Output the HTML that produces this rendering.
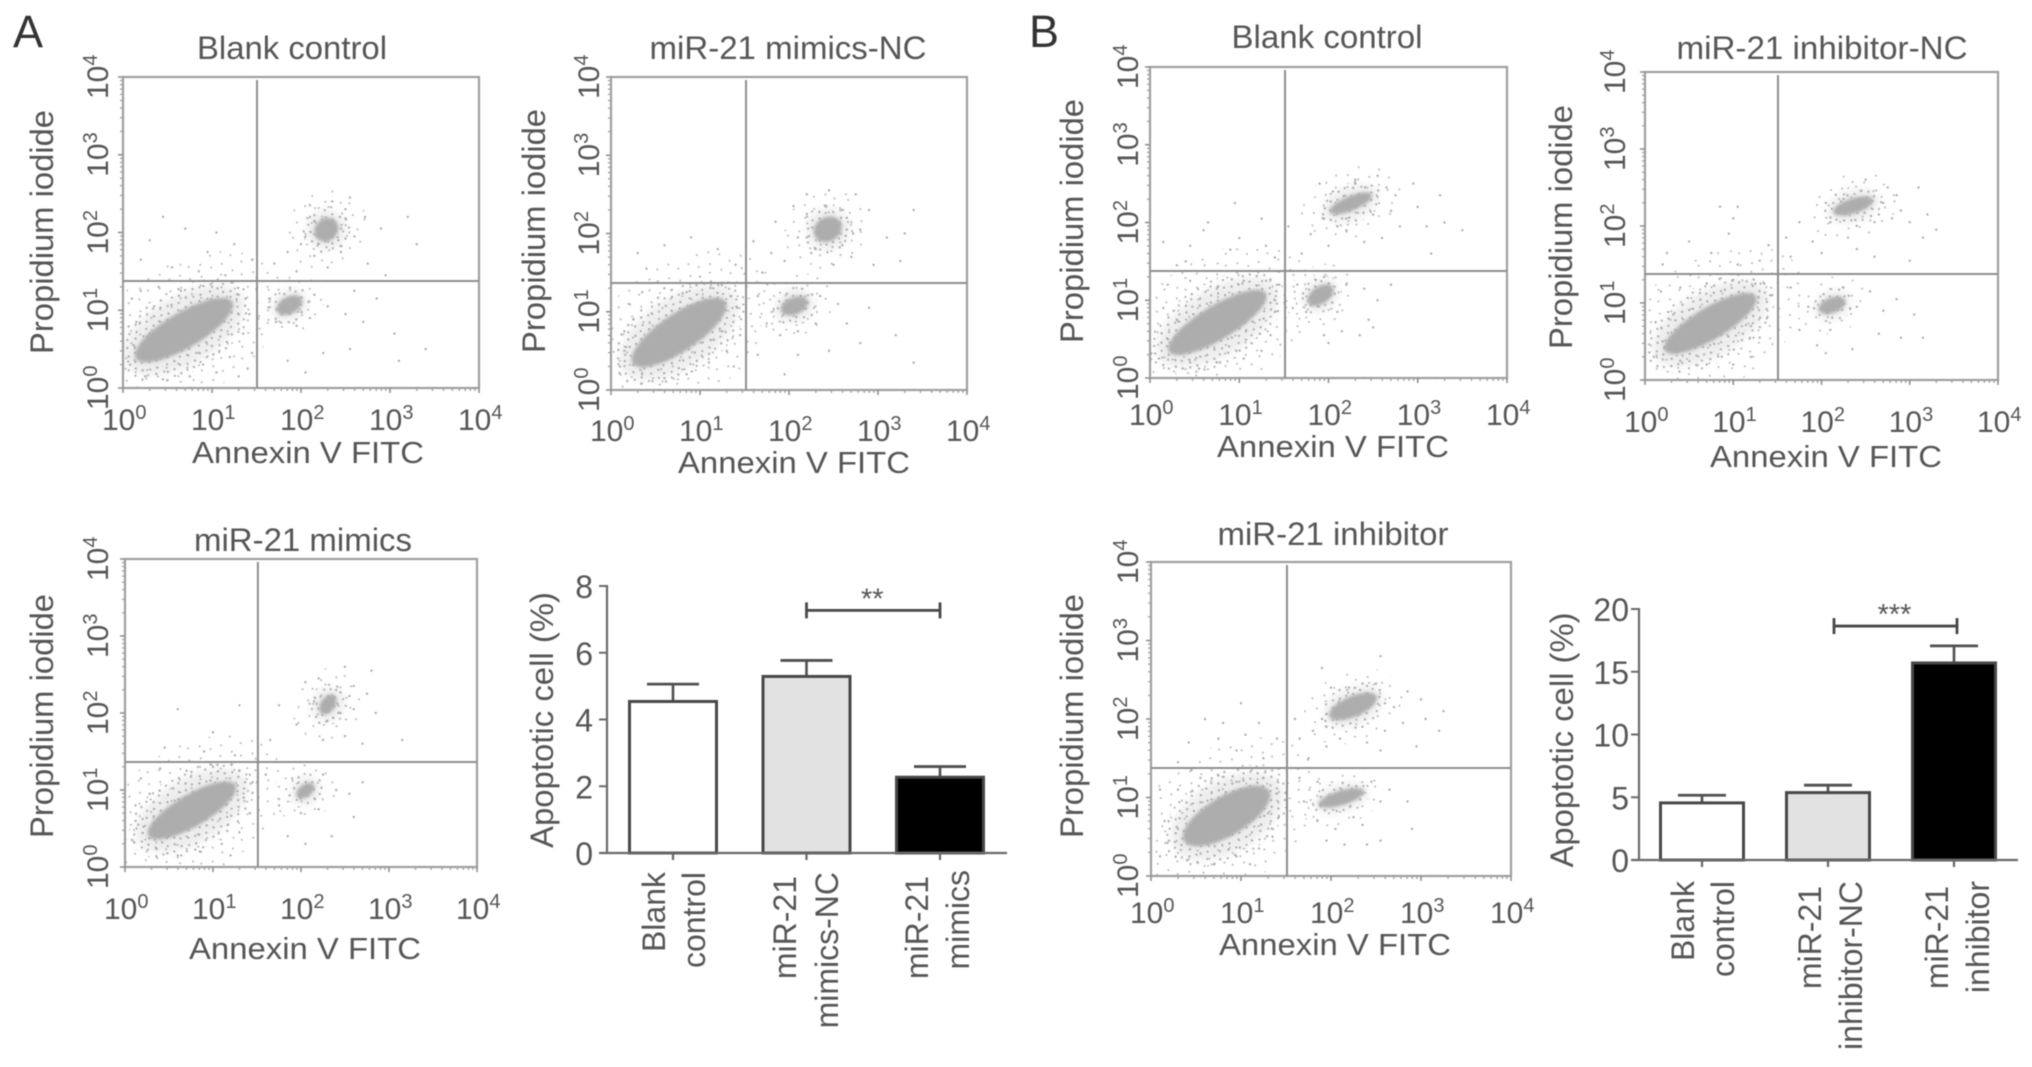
<!DOCTYPE html>
<html lang="en">
<head>
<meta charset="utf-8">
<title>Apoptosis flow cytometry panels</title>
<style>
html,body{margin:0;padding:0;background:#fff;width:2032px;height:1067px;overflow:hidden}
svg{display:block;filter:blur(.6px)}
text{font-family:"Liberation Sans",sans-serif;fill:#565656;font-size:31px}
.panel-letter{font-size:45px;fill:#333}
.ttl{font-size:32px}
.axt{font-size:31px}
.ylab{font-size:32px}
.cat{font-size:32px}
</style>
</head>
<body>
<svg id="figure" xmlns="http://www.w3.org/2000/svg" width="2032" height="1067" viewBox="0 0 2032 1067">
<defs>
<filter id="soft" x="-50%" y="-50%" width="200%" height="200%"><feGaussianBlur stdDeviation="4"/></filter>
<filter id="edge" x="-30%" y="-30%" width="160%" height="160%"><feGaussianBlur stdDeviation="1.6"/></filter>
<pattern id="speckleDense" patternUnits="userSpaceOnUse" width="37" height="41">
<g fill="#aeaeae">
<circle cx="2" cy="3" r="1.2"/><circle cx="9" cy="1" r="1.1"/><circle cx="15" cy="5" r="1.2"/><circle cx="23" cy="2" r="1.1"/><circle cx="31" cy="6" r="1.2"/>
<circle cx="5" cy="9" r="1.1"/><circle cx="12" cy="11" r="1.2"/><circle cx="20" cy="9" r="1.1"/><circle cx="27" cy="12" r="1.2"/><circle cx="34" cy="14" r="1.1"/>
<circle cx="1" cy="15" r="1.2"/><circle cx="8" cy="17" r="1.1"/><circle cx="17" cy="16" r="1.2"/><circle cx="24" cy="19" r="1.1"/><circle cx="31" cy="21" r="1.2"/>
<circle cx="4" cy="23" r="1.1"/><circle cx="12" cy="24" r="1.2"/><circle cx="19" cy="23" r="1.1"/><circle cx="27" cy="26" r="1.2"/><circle cx="35" cy="28" r="1.1"/>
<circle cx="1" cy="30" r="1.2"/><circle cx="8" cy="31" r="1.1"/><circle cx="15" cy="30" r="1.2"/><circle cx="22" cy="33" r="1.1"/><circle cx="30" cy="34" r="1.2"/>
<circle cx="5" cy="37" r="1.1"/><circle cx="12" cy="38" r="1.2"/><circle cx="19" cy="38" r="1.1"/><circle cx="26" cy="39" r="1.2"/><circle cx="34" cy="38" r="1.1"/>
</g>
</pattern>
<pattern id="speckleSparse" patternUnits="userSpaceOnUse" width="47" height="53">
<g fill="#b5b5b5">
<circle cx="3" cy="5" r="1"/><circle cx="14" cy="2" r="1"/><circle cx="26" cy="7" r="1"/><circle cx="38" cy="3" r="1"/>
<circle cx="9" cy="14" r="1"/><circle cx="20" cy="16" r="1"/><circle cx="32" cy="13" r="1"/><circle cx="43" cy="17" r="1"/>
<circle cx="4" cy="25" r="1"/><circle cx="15" cy="27" r="1"/><circle cx="27" cy="24" r="1"/><circle cx="38" cy="28" r="1"/>
<circle cx="9" cy="36" r="1"/><circle cx="21" cy="38" r="1"/><circle cx="33" cy="35" r="1"/><circle cx="44" cy="39" r="1"/>
<circle cx="3" cy="47" r="1"/><circle cx="15" cy="49" r="1"/><circle cx="27" cy="46" r="1"/><circle cx="38" cy="50" r="1"/>
</g>
</pattern>
</defs>
<rect width="2032" height="1067" fill="#fff"/>
<g id="marks"></g>

<text class="panel-letter" x="13" y="47">A</text>
<text class="panel-letter" x="1029" y="47">B</text>

<text class="ttl" x="292" y="59" text-anchor="middle" textLength="190" lengthAdjust="spacingAndGlyphs">Blank control</text>
<text class="ttl" x="788" y="59" text-anchor="middle" textLength="277" lengthAdjust="spacingAndGlyphs">miR-21 mimics-NC</text>
<text class="ttl" x="303" y="551" text-anchor="middle" textLength="218" lengthAdjust="spacingAndGlyphs">miR-21 mimics</text>
<text class="ttl" x="1327" y="48" text-anchor="middle" textLength="191" lengthAdjust="spacingAndGlyphs">Blank control</text>
<text class="ttl" x="1822" y="59" text-anchor="middle" textLength="291" lengthAdjust="spacingAndGlyphs">miR-21 inhibitor-NC</text>
<text class="ttl" x="1333" y="545" text-anchor="middle" textLength="231" lengthAdjust="spacingAndGlyphs">miR-21 inhibitor</text>

<text class="axt" x="308" y="463" text-anchor="middle" textLength="232" lengthAdjust="spacingAndGlyphs">Annexin V FITC</text>
<text class="axt" x="794" y="473" text-anchor="middle" textLength="232" lengthAdjust="spacingAndGlyphs">Annexin V FITC</text>
<text class="axt" x="305" y="959" text-anchor="middle" textLength="232" lengthAdjust="spacingAndGlyphs">Annexin V FITC</text>
<text class="axt" x="1333" y="457" text-anchor="middle" textLength="232" lengthAdjust="spacingAndGlyphs">Annexin V FITC</text>
<text class="axt" x="1826" y="467" text-anchor="middle" textLength="232" lengthAdjust="spacingAndGlyphs">Annexin V FITC</text>
<text class="axt" x="1335" y="955" text-anchor="middle" textLength="232" lengthAdjust="spacingAndGlyphs">Annexin V FITC</text>

<text class="ylab" transform="translate(53,232) rotate(-90)" text-anchor="middle" textLength="244" lengthAdjust="spacingAndGlyphs">Propidium iodide</text>
<text class="ylab" transform="translate(545,231) rotate(-90)" text-anchor="middle" textLength="244" lengthAdjust="spacingAndGlyphs">Propidium iodide</text>
<text class="ylab" transform="translate(53,716) rotate(-90)" text-anchor="middle" textLength="244" lengthAdjust="spacingAndGlyphs">Propidium iodide</text>
<text class="ylab" transform="translate(1083,221) rotate(-90)" text-anchor="middle" textLength="244" lengthAdjust="spacingAndGlyphs">Propidium iodide</text>
<text class="ylab" transform="translate(1572,227) rotate(-90)" text-anchor="middle" textLength="244" lengthAdjust="spacingAndGlyphs">Propidium iodide</text>
<text class="ylab" transform="translate(1083,716) rotate(-90)" text-anchor="middle" textLength="244" lengthAdjust="spacingAndGlyphs">Propidium iodide</text>

<text class="ylab" transform="translate(553,720) rotate(-90)" text-anchor="middle" textLength="256" lengthAdjust="spacingAndGlyphs">Apoptotic cell (%)</text>
<text class="ylab" transform="translate(1573,740) rotate(-90)" text-anchor="middle" textLength="255" lengthAdjust="spacingAndGlyphs">Apoptotic cell (%)</text>

<text class="cat" transform="translate(665,872) rotate(-90)" text-anchor="end">Blank</text>
<text class="cat" transform="translate(705,872) rotate(-90)" text-anchor="end">control</text>
<text class="cat" transform="translate(796,876) rotate(-90)" text-anchor="end">miR-21</text>
<text class="cat" transform="translate(838,872) rotate(-90)" text-anchor="end">mimics-NC</text>
<text class="cat" transform="translate(928,876) rotate(-90)" text-anchor="end">miR-21</text>
<text class="cat" transform="translate(969,870) rotate(-90)" text-anchor="end">mimics</text>

<text class="cat" transform="translate(1694,881) rotate(-90)" text-anchor="end">Blank</text>
<text class="cat" transform="translate(1734,881) rotate(-90)" text-anchor="end">control</text>
<text class="cat" transform="translate(1821,886) rotate(-90)" text-anchor="end">miR-21</text>
<text class="cat" transform="translate(1862,881) rotate(-90)" text-anchor="end">inhibitor-NC</text>
<text class="cat" transform="translate(1948,886) rotate(-90)" text-anchor="end">miR-21</text>
<text class="cat" transform="translate(1989,881) rotate(-90)" text-anchor="end">inhibitor</text>
</svg>

<script>
// ---- flow-plot axis values ----
const tickExponents = [0, 1, 2, 3, 4];
const minorMultipliers = [2, 3, 4, 5, 6, 7, 8, 9];

// gates: [log10 Annexin V, log10 PI]
const a1Gate = [1.506, 1.376];
const a2Gate = [1.517, 1.367];
const a3Gate = [1.51, 1.364];
const b1Gate = [1.513, 1.376];
const b2Gate = [1.507, 1.377];
const b3Gate = [1.511, 1.376];

// populations: [x1, y1, x2, y2, thickness, halo] in log10 units
const a1Clusters = [[.2, .42, 1.17, 1.07, .42, .75], [2.2, 1.95, 2.37, 2.12, .26, .42], [1.76, 1.0, 1.98, 1.13, .2, .32]];
const a2Clusters = [[.3, .38, 1.23, 1.09, .44, .75], [2.32, 1.98, 2.55, 2.13, .28, .42], [1.94, 1.02, 2.18, 1.13, .2, .36]];
const a3Clusters = [[.32, .44, 1.2, 1.03, .38, .75], [2.25, 2.02, 2.36, 2.2, .17, .4], [1.98, .93, 2.12, 1.05, .15, .34]];
const b1Clusters = [[.27, .38, 1.24, 1.05, .4, .75], [2.05, 2.15, 2.45, 2.34, .17, .42], [1.8, .98, 2.02, 1.15, .2, .32]];
const b2Clusters = [[.28, .42, 1.2, 1.05, .38, .75], [2.17, 2.19, 2.55, 2.33, .18, .38], [2.0, .92, 2.24, 1.02, .18, .32]];
const b3Clusters = [[.42, .48, 1.26, 1.05, .46, .75], [2.02, 2.05, 2.47, 2.27, .24, .38], [1.9, .92, 2.33, 1.07, .17, .3]];

// sparse events: [log10 Annexin V, log10 PI]
const a1Points = [[.3,1.9],[.55,1.55],[.7,2.05],[.95,1.75],[1.05,2.0],[.2,1.65],[1.25,1.85],[1.45,1.65],[.85,1.5],[1.15,1.45],[.45,2.2],[1.7,1.6],[1.85,1.75],[2.0,1.85],[1.95,1.5],[2.1,2.2],[2.15,1.7],[2.3,1.55],[2.45,1.75],[2.6,1.95],[2.5,2.3],[2.72,2.2],[2.55,2.45],[2.35,2.4],[2.1,2.35],[2.9,2.05],[3.2,2.2],[3.3,1.85],[2.75,1.6],[2.95,1.45],[2.05,1.95],[2.15,2.15],[2.45,2.05],[2.5,2.18],[2.42,1.9],[2.2,1.85],[1.65,1.15],[1.72,.85],[1.95,.8],[2.1,.9],[2.15,1.2],[2.3,1.05],[2.5,.95],[2.7,.85],[2.6,1.25],[2.55,.5],[2.25,.45],[1.85,.35],[2.05,.2],[3.05,.7],[3.1,.35],[3.4,.5],[2.85,1.15],[.08,.3],[.15,.85],[.1,1.15],[.2,1.25],[.4,1.3],[.65,1.25],[1.0,1.3],[1.3,1.2],[1.42,.95],[1.35,.7],[1.45,.45],[1.2,.4],[1.05,.2],[.75,.15],[.5,.1],[.25,.15],[.12,.55],[.3,.7],[.35,1.05],[.9,.3],[1.3,.15],[1.4,.25],[1.3,.95],[.6,0],[.75,0],[.9,0],[1.0,0],[.45,0],[.3,0],[1.9,0],[2.25,0],[2.6,0],[2.95,0],[3.3,0],[3.7,0],[3.95,0]];
const a2Points = [[.3,1.75],[.6,1.85],[.9,1.95],[1.2,1.8],[1.4,1.6],[.4,1.55],[1.0,1.45],[1.7,1.5],[1.6,1.9],[1.8,1.75],[1.95,1.65],[2.1,1.95],[1.85,2.15],[2.05,2.35],[2.2,2.5],[2.45,2.55],[2.75,2.5],[2.9,2.3],[2.65,2.2],[2.8,2.05],[3.1,1.95],[3.3,2.0],[3.4,2.3],[2.7,1.7],[2.5,1.6],[2.3,1.8],[2.25,1.75],[2.6,1.85],[2.95,1.6],[3.25,1.65],[2.2,2.25],[2.42,2.35],[2.6,2.3],[2.2,1.95],[2.72,2.0],[1.65,1.2],[1.75,.85],[1.9,.7],[2.1,.75],[2.3,.85],[2.35,1.2],[2.55,1.1],[2.65,.85],[2.8,.6],[2.45,.5],[2.1,.45],[1.95,.2],[1.65,.45],[2.9,1.05],[3.2,.7],[3.4,.35],[.1,.3],[.15,.75],[.2,1.1],[.35,1.25],[.6,1.3],[.85,1.25],[1.15,1.3],[1.35,1.2],[1.42,1.05],[1.45,.7],[1.3,.5],[1.1,.35],[.85,.2],[.6,.15],[.35,.2],[.15,.5],[.25,.9],[1.25,.75],[1.38,.3],[.4,0],[.55,0],[.75,0],[.95,0],[1.1,0],[1.3,0],[1.6,0],[1.9,0],[2.3,0],[2.6,0],[3.0,0],[3.4,0],[3.8,0]];
const a3Points = [[.6,2.05],[1.0,1.75],[1.3,2.1],[.45,1.55],[.9,1.5],[1.25,1.45],[1.65,1.65],[1.75,2.1],[1.95,1.85],[2.05,2.4],[2.2,2.45],[2.5,2.6],[2.8,2.55],[2.75,2.25],[2.6,2.05],[2.85,2.0],[2.3,1.9],[2.25,1.65],[2.5,1.7],[2.7,1.6],[3.15,1.65],[2.4,2.3],[2.55,2.22],[2.15,2.15],[2.6,2.35],[2.45,2.0],[2.35,2.1],[1.6,1.2],[1.75,.8],[1.9,1.15],[2.0,.7],[2.2,.75],[2.25,1.2],[2.4,1.0],[2.55,.95],[2.6,.65],[2.35,.4],[2.05,.3],[2.7,1.1],[1.85,.4],[.08,.35],[.12,.8],[.18,1.15],[.4,1.28],[.7,1.25],[1.0,1.3],[1.3,1.25],[1.45,1.1],[1.42,.7],[1.3,.45],[1.1,.3],[.85,.2],[.6,.15],[.35,.25],[.15,.55],[.28,.95],[1.35,.9],[1.2,.15],[.5,.4],[.3,0],[.5,0],[.7,0],[.95,0],[1.3,0],[1.6,0],[1.9,0],[2.25,0],[2.6,0],[2.95,0],[3.4,0],[3.9,0]];
const b1Points = [[.15,1.75],[.45,1.7],[.6,1.9],[.65,2.0],[.9,1.65],[1.0,1.8],[1.3,1.7],[1.25,2.05],[.95,2.25],[1.4,1.55],[.3,1.45],[.4,1.5],[1.55,1.95],[1.7,1.6],[1.8,1.85],[2.0,1.7],[1.95,2.05],[2.05,2.4],[1.9,2.5],[2.3,2.55],[2.55,2.6],[2.65,2.45],[2.75,2.35],[2.95,2.5],[3.0,2.2],[3.25,2.35],[3.3,2.0],[3.5,1.9],[3.1,1.95],[2.8,1.95],[2.6,1.8],[2.4,1.75],[2.2,1.9],[2.2,2.05],[2.5,2.1],[2.1,1.95],[2.3,2.5],[2.7,2.15],[3.15,1.6],[1.65,1.2],[1.75,.85],[1.95,1.3],[2.1,.85],[2.2,1.2],[2.4,1.15],[2.55,1.0],[2.7,1.2],[2.45,.75],[2.15,.6],[1.95,.55],[2.0,.45],[2.35,.55],[2.5,.65],[1.6,.9],[.1,.25],[.15,.9],[.2,1.2],[.45,1.25],[.75,1.15],[1.05,1.25],[1.3,1.25],[1.45,1.2],[1.4,.85],[1.35,.55],[1.25,.35],[1.05,.25],[.75,.2],[.45,.2],[.2,.5],[.3,.75],[1.4,1.0],[.55,.12],[.3,0],[.45,0],[.6,0],[.75,0],[.85,0],[1.0,0],[1.5,0],[1.75,0],[2.05,0],[2.4,0],[2.8,0],[3.2,0],[3.6,0],[3.95,0]];
const b2Points = [[.25,1.65],[.5,1.8],[.75,1.65],[.95,1.9],[1.0,2.1],[1.05,1.5],[1.3,1.55],[1.4,1.75],[.85,2.25],[1.05,2.25],[.2,1.5],[1.6,1.85],[1.65,1.6],[1.75,2.05],[1.9,1.8],[2.0,1.65],[2.05,2.3],[2.1,2.05],[2.3,1.85],[2.4,2.0],[2.5,2.6],[2.75,2.5],[2.85,2.4],[3.1,2.5],[3.2,2.15],[2.8,2.1],[3.0,2.05],[2.6,2.05],[2.7,2.3],[2.9,2.2],[3.15,1.85],[3.3,1.95],[3.0,1.55],[2.6,1.6],[2.4,1.7],[2.25,2.35],[2.65,2.15],[1.65,1.2],[1.75,.65],[1.85,.95],[1.95,.45],[2.1,.65],[2.25,1.2],[2.4,.95],[2.55,1.15],[2.7,.9],[2.85,1.05],[2.65,.6],[2.35,.4],[2.05,.35],[2.9,.55],[3.15,.55],[3.05,.85],[.1,.3],[.12,.75],[.18,1.15],[.4,1.2],[.7,1.25],[1.0,1.3],[1.25,1.25],[1.42,1.1],[1.38,.8],[1.3,.55],[1.2,.3],[1.0,.2],[.7,.2],[.4,.25],[.2,.5],[1.2,.7],[.32,.85],[.25,0],[.4,0],[.5,0],[.65,0],[.8,0],[.95,0],[1.35,0],[1.65,0],[2.0,0],[2.35,0],[2.75,0],[3.1,0],[3.5,0],[3.9,0]];
const b3Points = [[.3,1.45],[.42,1.7],[.6,2.0],[.75,1.75],[.8,1.95],[.95,1.6],[1.05,1.8],[1.2,1.95],[1.25,1.5],[1.4,1.75],[.45,1.35],[1.0,2.2],[1.65,1.75],[1.75,1.5],[1.6,2.0],[1.8,1.85],[1.95,1.65],[1.95,1.9],[2.1,1.75],[2.2,2.4],[2.35,1.9],[2.4,1.7],[2.5,2.45],[2.6,1.85],[2.7,2.15],[2.8,1.95],[2.85,2.35],[3.0,2.25],[3.05,2.0],[3.2,1.85],[3.25,2.1],[2.95,1.65],[2.55,1.6],[2.0,2.4],[2.35,2.45],[2.6,2.2],[1.9,2.0],[1.9,2.65],[2.55,2.8],[1.65,1.25],[1.7,.95],[1.85,1.2],[1.85,.7],[2.05,.6],[2.25,.75],[2.35,.65],[2.45,1.2],[2.55,.95],[2.65,1.1],[2.85,.95],[2.4,.4],[2.15,.4],[1.95,.45],[2.9,.6],[2.55,.45],[.1,.25],[.15,.7],[.1,1.1],[.3,1.1],[.55,1.25],[.75,1.28],[.95,1.2],[1.25,1.25],[1.4,1.05],[1.42,.75],[1.35,.5],[1.2,.35],[.95,.25],[.7,.15],[.4,.2],[.2,.45],[.3,.6],[1.3,.8],[1.1,.15],[.25,0],[.4,0],[.55,0],[.7,0],[.85,0],[.95,0],[1.3,0],[1.6,0],[1.95,0],[2.3,0],[2.7,0],[3.1,0],[3.5,0],[3.95,0]];

// ---- bar-chart values ----
const barCategoriesA = ['Blank control', 'miR-21 mimics-NC', 'miR-21 mimics'];
const barValuesA = [4.54, 5.29, 2.27];
const barErrorsA = [0.52, 0.48, 0.32];
const barTicksA = [0, 2, 4, 6, 8];
const barMaxA = 8;
const barSignificanceA = 7.27;
const barCategoriesB = ['Blank control', 'miR-21 inhibitor-NC', 'miR-21 inhibitor'];
const barValuesB = [4.55, 5.37, 15.7];
const barErrorsB = [0.61, 0.59, 1.36];
const barTicksB = [0, 5, 10, 15, 20];
const barMaxB = 20;
const barSignificanceB = 18.64;
const barFills = ['#ffffff', '#e2e2e2', '#000000'];

const NS = 'http://www.w3.org/2000/svg';
const root = document.getElementById('marks');

function mk(tag, attrs, parent) {
  const el = document.createElementNS(NS, tag);
  for (const k in attrs) el.setAttribute(k, attrs[k]);
  (parent || root).appendChild(el);
  return el;
}

function powerLabel(exp, attrs, parent) {
  const t = mk('text', attrs, parent);
  const base = document.createElementNS(NS, 'tspan');
  base.textContent = '10';
  base.style.fontSize = '30px';
  const sup = document.createElementNS(NS, 'tspan');
  sup.textContent = String(exp);
  sup.style.fontSize = '20px';
  sup.setAttribute('dy', '-11');
  t.appendChild(base);
  t.appendChild(sup);
  return t;
}

function drawFlow(id, box, labels, gate, clusters, points) {
  const g = mk('g', {});
  
  
  const xS = v => box.x + v / 4 * box.w;
  const yS = v => box.y + box.h - v / 4 * box.h;

  const clip = mk('clipPath', {id: id + '-clip'}, g);
  mk('rect', {x: box.x, y: box.y, width: box.w, height: box.h}, clip);
  const inner = mk('g', {'clip-path': 'url(#' + id + '-clip)'}, g);
  
  

  clusters.forEach(c => {
    const x1 = xS(c[0]), y1 = yS(c[1]), x2 = xS(c[2]), y2 = yS(c[3]);
    const cx = (x1 + x2) / 2, cy = (y1 + y2) / 2;
    const len = Math.hypot(x2 - x1, y2 - y1) / 2;
    const th = c[4] / 4 * box.h / 2;
    const pad = c[5] / 4 * box.h;
    const ang = Math.atan2(y2 - y1, x2 - x1) * 180 / Math.PI;
    const rot = 'rotate(' + ang + ' ' + cx + ' ' + cy + ')';
    const sparse = mk('ellipse', {cx: cx, cy: cy, rx: len + pad, ry: th + pad * .85, fill: 'url(#speckleSparse)', transform: rot}, inner);
    
    
    const fringe = mk('ellipse', {cx: cx, cy: cy, rx: len + pad * .42, ry: th + pad * .42, fill: 'url(#speckleDense)', transform: rot}, inner);
    
    
    const halo = mk('ellipse', {cx: cx, cy: cy, rx: len + pad * .3, ry: th + pad * .3, fill: '#a8a8a8', opacity: .2, filter: 'url(#soft)', transform: rot}, inner);
    
    
    const core = mk('ellipse', {cx: cx, cy: cy, rx: len * 1.08 + 2, ry: th * 1.1, fill: '#adadad', filter: 'url(#edge)', transform: rot}, inner);
    
    
  });

  points.forEach(p => {
    const dot = mk('circle', {cx: xS(p[0]), cy: yS(p[1]), r: 1.2, fill: '#adadad'}, g);
    
    
  });

  const frame = mk('rect', {x: box.x, y: box.y, width: box.w, height: box.h, fill: 'none', stroke: '#a0a0a0', 'stroke-width': 2.2}, g);
  
  

  const gateV = mk('line', {x1: xS(gate[0]), x2: xS(gate[0]), y1: box.y + 3, y2: box.y + box.h, stroke: '#8e8e8e', 'stroke-width': 2}, g);
  
  
  const gateH = mk('line', {x1: box.x, x2: box.x + box.w, y1: yS(gate[1]), y2: yS(gate[1]), stroke: '#8e8e8e', 'stroke-width': 2}, g);
  
  

  tickExponents.forEach(e => {
    const xt = mk('line', {x1: xS(e), x2: xS(e), y1: box.y + box.h, y2: box.y + box.h + 5, stroke: '#909090', 'stroke-width': 1.6}, g);
    
    
    const yt = mk('line', {x1: box.x - 5, x2: box.x, y1: yS(e), y2: yS(e), stroke: '#909090', 'stroke-width': 1.6}, g);
    
    

    const xl = powerLabel(e, {x: xS(e) - 21, y: labels.xBase}, g);
    
    
    const ty = yS(e) + 22;
    const yl = powerLabel(e, {transform: 'translate(' + labels.yBase + ',' + ty + ') rotate(-90)'}, g);
    
    

    if (e < 4) minorMultipliers.forEach(m => {
      const lv = e + Math.log10(m);
      const mx = mk('line', {x1: xS(lv), x2: xS(lv), y1: box.y + box.h, y2: box.y + box.h + 3, stroke: '#a0a0a0', 'stroke-width': 1.3}, g);
      
      
      const my = mk('line', {x1: box.x - 3, x2: box.x, y1: yS(lv), y2: yS(lv), stroke: '#a0a0a0', 'stroke-width': 1.3}, g);
      
      
    });
  });
}

drawFlow('a1', {x: 123, y: 77, w: 356, h: 311}, {xBase: 430, yBase: 108}, a1Gate, a1Clusters, a1Points);
drawFlow('a2', {x: 611, y: 77, w: 356, h: 313}, {xBase: 441, yBase: 599}, a2Gate, a2Clusters, a2Points);
drawFlow('a3', {x: 125, y: 559, w: 352, h: 308}, {xBase: 919, yBase: 108}, a3Gate, a3Clusters, a3Points);
drawFlow('b1', {x: 1150, y: 67, w: 357, h: 311}, {xBase: 425, yBase: 1138}, b1Gate, b1Clusters, b1Points);
drawFlow('b2', {x: 1645, y: 72, w: 353, h: 308}, {xBase: 432, yBase: 1625}, b2Gate, b2Clusters, b2Points);
drawFlow('b3', {x: 1151, y: 562, w: 360, h: 314}, {xBase: 923, yBase: 1138}, b3Gate, b3Clusters, b3Points);

function drawBars(id, geo, categories, values, errors, ticks, maxV, sigLevel, stars) {
  const g = mk('g', {});
  
  
  const yS = v => geo.y0 - v / maxV * (geo.y0 - geo.yTop);
  const xS = i => geo.x0 + i * geo.step;

  categories.forEach((name, i) => {
    const cx = xS(i);
    const errV = mk('line', {x1: cx, x2: cx, y1: yS(values[i]), y2: yS(values[i] + errors[i]), stroke: '#505050', 'stroke-width': 2.6}, g);
    
    
    const errC = mk('line', {x1: cx - geo.cap, x2: cx + geo.cap, y1: yS(values[i] + errors[i]), y2: yS(values[i] + errors[i]), stroke: '#505050', 'stroke-width': 2.8}, g);
    
    
    const bar = mk('rect', {x: cx - geo.bw / 2, y: yS(values[i]), width: geo.bw, height: yS(0) - yS(values[i]), fill: barFills[i], stroke: '#484848', 'stroke-width': 3}, g);
    
    
    const tk = mk('line', {x1: cx, x2: cx, y1: geo.y0, y2: geo.y0 + 7, stroke: '#666', 'stroke-width': 2.2}, g);
    
    
  });

  const yAxis = mk('line', {x1: geo.axisX, x2: geo.axisX, y1: yS(maxV) - 1, y2: geo.y0, stroke: '#6a6a6a', 'stroke-width': 2.2}, g);
  
  
  const xAxis = mk('line', {x1: geo.axisX - 8, x2: geo.xEnd, y1: geo.y0, y2: geo.y0, stroke: '#6a6a6a', 'stroke-width': 2.2}, g);
  
  

  ticks.forEach(v => {
    const tk = mk('line', {x1: geo.axisX - 8, x2: geo.axisX, y1: yS(v), y2: yS(v), stroke: '#6a6a6a', 'stroke-width': 2}, g);
    
    
    const lb = mk('text', {x: geo.labelX, y: yS(v) + 12, 'text-anchor': 'end', style: 'font-size:32px'}, g);
    lb.textContent = String(v);
    
    
  });

  const sx1 = xS(1) + geo.sigShift, sx2 = xS(2) + geo.sigShift / 2, sy = yS(sigLevel);
  [[sx1, sy, sx2, sy], [sx1, sy - 8, sx1, sy + 8], [sx2, sy - 8, sx2, sy + 8]].forEach(s => {
    const br = mk('line', {x1: s[0], y1: s[1], x2: s[2], y2: s[3], stroke: '#484848', 'stroke-width': 2.8}, g);
    
    
  });
  const st = mk('text', {x: (sx1 + sx2) / 2 - 1, y: sy - 2, 'text-anchor': 'middle', style: 'font-size:29px'}, g);
  st.textContent = stars;
  
  
}

drawBars('bar-a', {x0: 673, step: 133.5, bw: 87, cap: 26, y0: 853, yTop: 586, axisX: 607, xEnd: 1007, labelX: 593, sigShift: 0}, barCategoriesA, barValuesA, barErrorsA, barTicksA, barMaxA, barSignificanceA, '**');
drawBars('bar-b', {x0: 1702, step: 126, bw: 83, cap: 24, y0: 860, yTop: 609, axisX: 1639, xEnd: 2018, labelX: 1629, sigShift: 6}, barCategoriesB, barValuesB, barErrorsB, barTicksB, barMaxB, barSignificanceB, '***');
</script>
</body>
</html>
